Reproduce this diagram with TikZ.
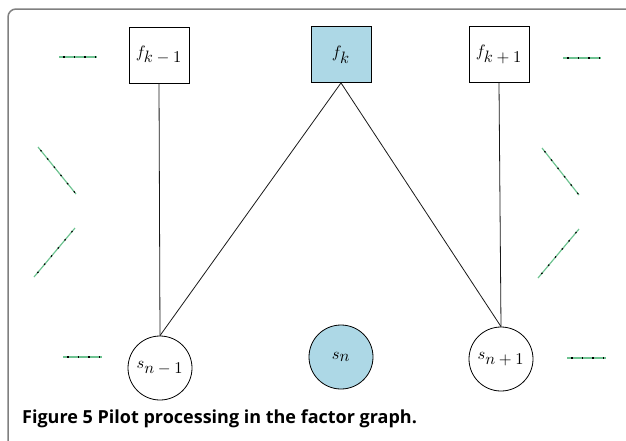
\documentclass[tikz,border=0pt]{standalone}
\usepackage{graphicx}
\usepackage{fontspec}
\newfontfamily\capfont{Open Sans}
\newcommand{\biglab}[1]{\scalebox{1.65}{$#1$}}
\begin{document}
\begin{tikzpicture}[x=1pt,y=-1pt,
  factor/.style={draw, line width=0.8pt, minimum width=60pt, minimum height=56pt, inner sep=0pt},
  var/.style={draw, circle, line width=0.8pt, minimum size=64pt, inner sep=0pt},
  hl/.style={fill=lightblue},
  edge/.style={line width=0.8pt, draw=black!90},
  greenseg/.style={line width=1.2pt, draw=segg},
  dotseg/.style={line width=1.2pt, draw=black, dash pattern=on 1.6pt off 9pt, dash phase=-4pt}
]
\definecolor{lightblue}{RGB}{173,216,230}
\definecolor{segg}{RGB}{110,195,145}
\definecolor{frame}{RGB}{128,128,128}
\useasboundingbox (0,0) rectangle (626,440);
\begin{scope}
\clip (0,0) rectangle (626,440);
\draw[frame, line width=1.5pt, rounded corners=8pt] (8,9) rectangle (660,480);
\end{scope}
% factor nodes
\node[factor] (fkm) at (159,55) {\biglab{f_{\textstyle k-1}}};
\node[factor,hl] (fk) at (341,54.5) {\biglab{f_{\textstyle k}}};
\node[factor] (fkp) at (499,54.5) {\biglab{f_{\textstyle k+1}}};
% variable nodes
\node[var] (snm) at (160,368) {\biglab{s_{\textstyle n-1}}};
\node[var,hl] (sn) at (341,357) {\biglab{s_{\textstyle n}}};
\node[var] (snp) at (501,359) {\biglab{s_{\textstyle n+1}}};
% edges
\draw[edge] (fkm.south) -- (snm.north);
\draw[edge] (fk.south) -- (snm.north);
\draw[edge] (fk.south) -- (snp.north);
\draw[edge] (fkp.south) -- (snp.north);
% short dashed strokes
\coordinate (a1) at (59,57);  \coordinate (a2) at (97,57);
\coordinate (b1) at (563,58); \coordinate (b2) at (601,58);
\coordinate (c1) at (38,147); \coordinate (c2) at (76,194);
\coordinate (d1) at (75,228); \coordinate (d2) at (34,277);
\coordinate (e1) at (542,148); \coordinate (e2) at (579,195);
\coordinate (g1) at (579,229); \coordinate (g2) at (538,278);
\coordinate (h1) at (63,357); \coordinate (h2) at (102,357);
\coordinate (i1) at (567,358); \coordinate (i2) at (606,358);
\foreach \p/\q in {a1/a2,b1/b2,c1/c2,d1/d2,e1/e2,g1/g2,h1/h2,i1/i2}{
  \draw[greenseg] (\p) -- (\q);
  \draw[dotseg] (\p) -- (\q);
}
% caption
\node[anchor=base west, inner sep=0pt, font=\capfont\bfseries\fontsize{18}{21}\selectfont] (cap) at (22,423) {Figure 5 Pilot processing in the factor graph.};
\end{tikzpicture}
\end{document}
